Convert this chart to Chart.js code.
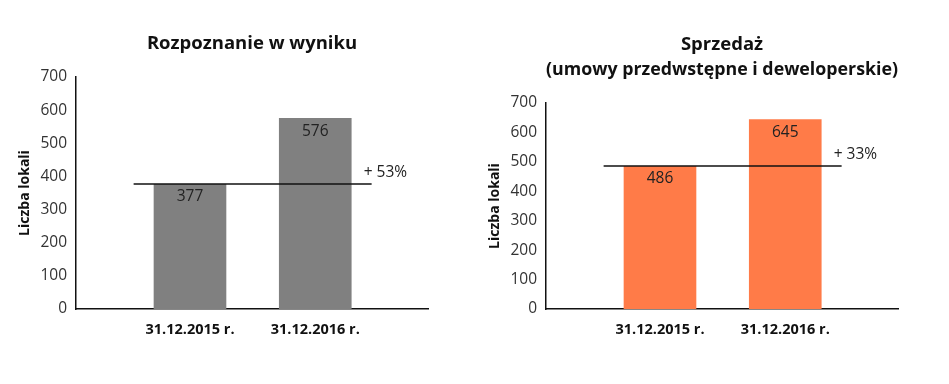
<!DOCTYPE html>
<html>
<head>
<meta charset="utf-8">
<script src="https://cdn.jsdelivr.net/npm/chart.js@4.4.1/dist/chart.umd.min.js"></script>
<style>
  body { margin: 0; background: #fff; }
  .wrap { position: relative; width: 949px; height: 384px; }
  .box { position: absolute; top: 0; width: 470px; height: 384px; }
</style>
</head>
<body>
<div class="wrap">
  <div class="box" style="left:0"><canvas id="chartLeft"></canvas></div>
  <div class="box" style="left:470px"><canvas id="chartRight"></canvas></div>
</div>
<script>
const categories = ["31.12.2015 r.", "31.12.2016 r."];
const recognized = [377, 576];
const sales = [486, 645];
const yMax = 700;
const yStep = 100;
const axisTitle = "Liczba lokali";

const FONT = "'Open Sans', sans-serif";

/* ---------------- Labels plugin ---------------- */
const labelsPlugin = {
    id: "barLabels",
    afterDatasetsDraw(chart) {
        const ctx = chart.ctx;
        const bars = chart.getDatasetMeta(0).data;
        const vals = chart.data.datasets[0].data.map(d => d.y);
        ctx.save();
        ctx.fillStyle = "#222";
        ctx.font = "15.5px " + FONT;
        ctx.textAlign = "center";
        ctx.textBaseline = "middle";
        bars.forEach((b, i) => ctx.fillText(vals[i], b.x, b.y + 13));

        // growth label next to connector line
        const line = chart.getDatasetMeta(1).data;
        const end = line[line.length - 1];
        const pct = Math.round((vals[vals.length - 1] / vals[0] - 1) * 100);
        ctx.textAlign = "left";
        ctx.fillText("+ " + pct + "%", end.x - 8, end.y - 11);
        ctx.restore();
    }
};

function makeChart(id, title, values, color) {
    const last = values.length - 1;
    new Chart(document.getElementById(id), {
        type: "bar",
        data: {
            datasets: [{
                type: "bar",
                data: values.map((v, i) => ({ x: i, y: v })),
                backgroundColor: color,
                categoryPercentage: 1,
                barPercentage: 0.58,
                order: 1
            }, {
                type: "line",
                data: [
                    { x: -0.45, y: values[0] },
                    { x: last + 0.45, y: values[0] }
                ],
                borderColor: "#111",
                borderWidth: 1.5,
                pointRadius: 0,
                order: 0
            }]
        },
        options: {
            responsive: true,
            maintainAspectRatio: false,
            animation: false,
            layout: { padding: { left: 0, right: 42, top: 0, bottom: 0 } },
            plugins: {
                legend: { display: false },
                tooltip: { enabled: false },
                title: {
                    display: true,
                    fullSize: false,
                    text: title,
                    color: "#111",
                    font: { family: FONT, size: 18.5, weight: "bold", lineHeight: 25 / 18.5 },
                    padding: { top: title.length > 1 ? 32.5 : 31.5, bottom: 20.5 }
                }
            },
            scales: {
                x: {
                    type: "linear",
                    offset: false,
                    bounds: "data",
                    min: -0.91,
                    max: last + 0.9,
                    grid: { display: false, offset: false, drawTicks: false },
                    border: { display: true, color: "#111", width: 1.5 },
                    afterBuildTicks: s => { s.ticks = categories.map((c, i) => ({ value: i })); },
                    afterFit: s => { s.height = 75; },
                    ticks: {
                        padding: 12,
                        color: "#111",
                        font: { family: FONT, size: 14.5, weight: "bold" },
                        callback: v => categories[v]
                    }
                },
                y: {
                    min: 0,
                    max: yMax,
                    grid: { display: false, drawTicks: false },
                    border: { display: true, color: "#111", width: 1.5 },
                    afterFit: s => { s.width = 76; },
                    ticks: {
                        stepSize: yStep,
                        padding: 9,
                        color: "#333",
                        font: { family: FONT, size: 15.5 }
                    },
                    title: {
                        display: true,
                        text: axisTitle,
                        color: "#111",
                        padding: { top: 17, bottom: 0 },
                        font: { family: FONT, size: 14, weight: "bold" }
                    }
                }
            }
        },
        plugins: [labelsPlugin]
    });
}

makeChart("chartLeft", ["Rozpoznanie w wyniku"], recognized, "#808080");
makeChart("chartRight", ["Sprzedaż", "(umowy przedwstępne i deweloperskie)"], sales, "#ff7b48");
</script>
</body>
</html>
